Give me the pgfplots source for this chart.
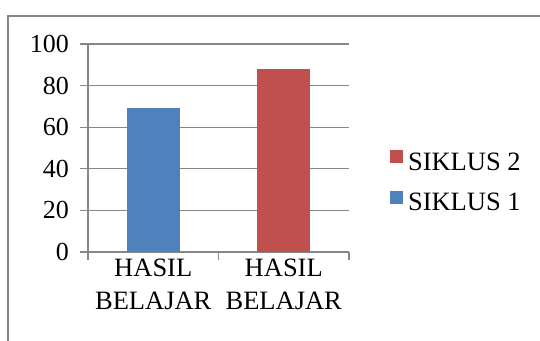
\documentclass[border=0pt]{standalone}
\usepackage{fontspec}
\setmainfont{Liberation Serif}
\usepackage{pgfplots}
\pgfplotsset{compat=1.18}
\definecolor{sblue}{HTML}{4F81BD}
\definecolor{sred}{HTML}{C0504D}
\definecolor{gridgray}{HTML}{868686}
\begin{document}
\begin{tikzpicture}[x=1pt,y=1pt]
\useasboundingbox (0,0) rectangle (540,340);
\draw[gridgray, line width=1.2pt] (8,-5) -- (8,324) -- (545,324);
\begin{axis}[
  at={(88pt,88pt)}, anchor=south west,
  scale only axis, width=261pt, height=208pt,
  xmin=0.5, xmax=2.5, ymin=0, ymax=100,
  ytick={0,20,...,100},
  xtick={0.5,1.5,2.5}, xticklabels={},
  extra x ticks={1,2},
  extra x tick labels={HASIL\\BELAJAR, HASIL\\BELAJAR},
  extra x tick style={major tick length=0pt, grid=none},
  axis lines*=left,
  axis line style={gridgray, line width=1.2pt},
  tick style={gridgray, line width=1.2pt},
  tick align=outside,
  major tick length=7.5pt,
  ymajorgrids, grid style={gridgray, line width=1.2pt},
  font=\fontsize{26.5}{33}\selectfont,
  /pgf/number format/assume math mode=true,
  yticklabel style={font=\fontsize{26}{30}\selectfont, xshift=-8pt},
  xticklabel style={font=\fontsize{26.5}{33}\selectfont, align=center, yshift=-3pt},
  legend style={draw=none, fill=none, at={(1.145,0.335)}, anchor=west,
    font=\fontsize{26.5}{30}\selectfont, row sep=17pt,
    legend cell align=left,
    /tikz/every odd column/.append style={column sep=3pt}},
  reverse legend,
  legend image code/.code={\fill[#1] (0pt,-1pt) rectangle (13pt,12pt);},
]
\addplot[ybar, bar width=53pt, bar shift=0pt, fill=sblue, draw=none] coordinates {(1,69)};
\addplot[ybar, bar width=53pt, bar shift=0pt, fill=sred, draw=none] coordinates {(2,88)};
\legend{SIKLUS 1, SIKLUS 2}
\end{axis}
\end{tikzpicture}
\end{document}
